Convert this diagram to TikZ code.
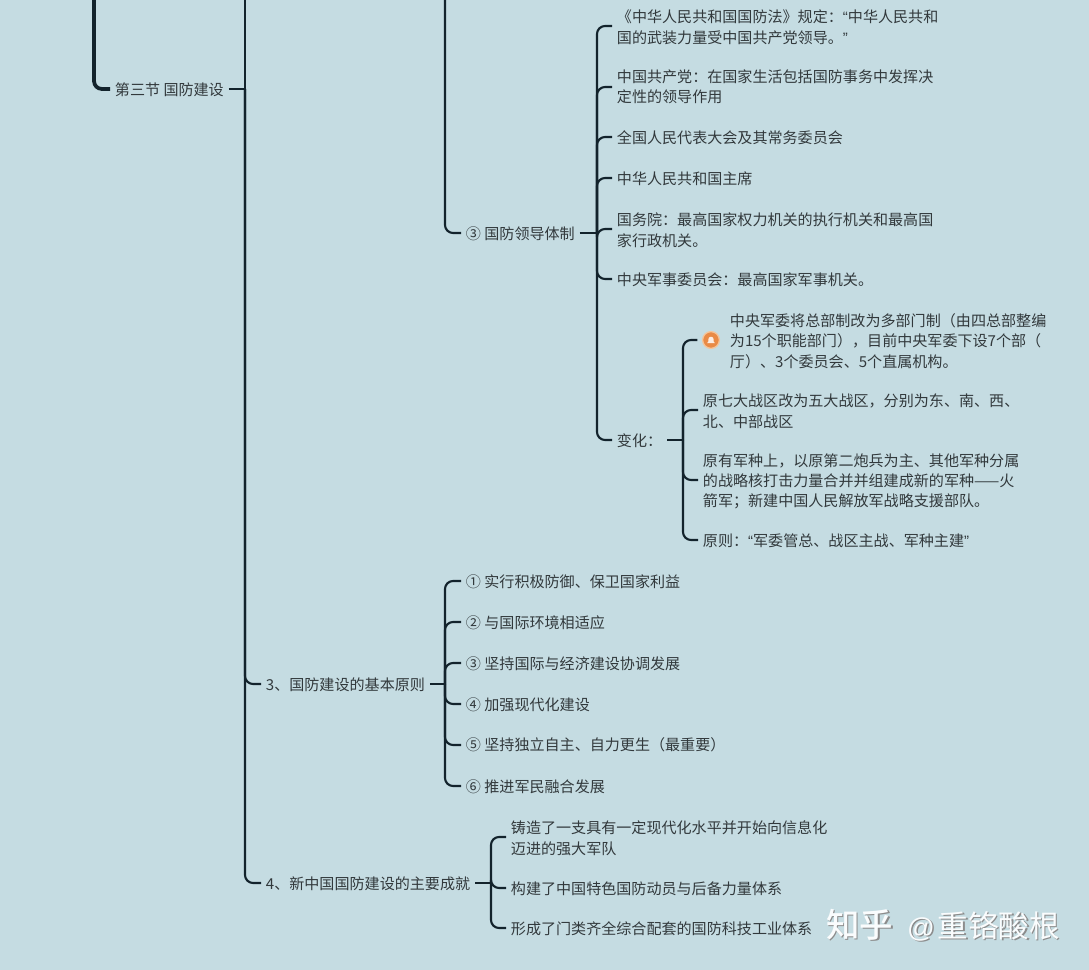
\documentclass[tikz,border=0pt]{standalone}
\usepackage{fontspec}
\setmainfont{Noto Sans CJK SC}
\newfontfamily\wmfont{Noto Sans CJK SC}[BoldFont={Noto Sans CJK SC Medium}]
\newfontfamily\quotefont{Liberation Sans}
\newcommand{\lqm}{{\quotefont “}}
\newcommand{\rqm}{{\quotefont ”}}
\newcommand{\fl}{\rule{0pt}{11.5pt}}
\definecolor{bgc}{HTML}{C5DCE2}
\definecolor{linec}{HTML}{13232C}
\definecolor{txtc}{HTML}{32393C}
\definecolor{iconc}{HTML}{E98A45}
\definecolor{iconl}{HTML}{F4C59B}
\tikzset{
  x=0.75pt,y=-0.75pt,
  item/.style={anchor=west,align=left,inner ysep=0pt,inner xsep=3.5pt,text=txtc,
    font=\fontsize{11.3}{15.1}\selectfont,
    execute at begin node={\rule{0pt}{10pt}}},
  stub/.style={draw=linec,line width=1.6pt},
  conn/.style={draw=linec,line width=1.6pt,rounded corners=6pt},
  heavy/.style={draw=linec,line width=2.8pt,rounded corners=6pt},
  wm/.style={anchor=west,inner sep=0pt},
}
\newcommand{\wmtxt}{{\wmfont\bfseries\fontsize{25.1}{28}\selectfont 知乎}\hspace{10.5pt}{\quotefont\fontsize{20.5}{28}\selectfont @}\hspace{2.2pt}{\wmfont\fontsize{22.9}{28}\selectfont 重铬酸根}}
\begin{document}
\begin{tikzpicture}
\path[fill=bgc] (0,0) rectangle (1089,970);
\useasboundingbox (0,0) rectangle (1089,970);
% free ends at the top
\coordinate (top0) at (94,0);
\coordinate (top1) at (245,0);
\coordinate (top2) at (445,0);
% section
\node[item] (sec) at (110,89) {第三节 国防建设};
\draw[heavy] (top0) |- (sec.west);
\coordinate (j1) at (245,89);
\draw[stub] (sec.east) -- (j1);
\draw[conn] (top1) -- (j1);
\node[item] (b3) at (261,684) {3、国防建设的基本原则};
\node[item] (b4) at (261,883) {4、新中国国防建设的主要成就};
\draw[conn] (j1) |- (b3.west);
\draw[conn] (j1) |- (b4.west);
% leadership
\node[item] (lead) at (461,233) {③ 国防领导体制};
\draw[conn] (top2) |- (lead.west);
\coordinate (j2) at (597,233);
\draw[stub] (lead.east) -- (j2);
\node[item] (a1) at (612,26) {\fl《中华人民共和国国防法》规定：\lqm 中华人民共和\\国的武装力量受中国共产党领导。\rqm};
\node[item] (a2) at (612,87) {中国共产党：在国家生活包括国防事务中发挥决\\定性的领导作用};
\node[item] (a3) at (612,137) {全国人民代表大会及其常务委员会};
\node[item] (a4) at (612,178) {中华人民共和国主席};
\node[item] (a5) at (612,229) {\fl 国务院：最高国家权力机关的执行机关和最高国\\家行政机关。};
\node[item] (a6) at (612,279) {中央军事委员会：最高国家军事机关。};
\node[item] (a7) at (612,440) {变化：};
\foreach \c in {a1,a2,a3,a4,a5,a6,a7} \draw[conn] (j2) |- (\c.west);
% changes
\coordinate (j3) at (683,440);
\draw[stub] (a7.east) -- (j3);
\node[circle,fill=iconc,draw=iconl,line width=1pt,minimum size=12.6pt,inner sep=0pt] (icon) at (711,340) {};
\fill[white!85!iconc] (711,340) ++(-4,3.2) -- ++(8,0) -- ++(-1.3,-1.6) -- ++(0,-2.2) arc[start angle=0,end angle=-180,radius=2.7] -- ++(0,2.2) -- cycle;
\node[item] (c1) at (725,340) {\fl 中央军委将总部制改为多部门制（由四总部整编\\为15个职能部门），目前中央军委下设7个部（\\厅）、3个委员会、5个直属机构。};
\node[item] (c2) at (698,410) {\fl 原七大战区改为五大战区，分别为东、南、西、\\北、中部战区};
\node[item] (c3) at (698,480) {\fl 原有军种上，以原第二炮兵为主、其他军种分属\\的战略核打击力量合并并组建成新的军种——火\\箭军；新建中国人民解放军战略支援部队。};
\node[item] (c4) at (698,540) {原则：\lqm 军委管总、战区主战、军种主建\rqm};
\draw[conn] (j3) |- ([xshift=-3.4pt]icon.west);
\foreach \c in {c2,c3,c4} \draw[conn] (j3) |- (\c.west);
% principles
\coordinate (j4) at (445,684);
\draw[stub] (b3.east) -- (j4);
\node[item] (p1) at (461,581) {① 实行积极防御、保卫国家利益};
\node[item] (p2) at (461,622) {② 与国际环境相适应};
\node[item] (p3) at (461,663) {③ 坚持国际与经济建设协调发展};
\node[item] (p4) at (461,704) {④ 加强现代化建设};
\node[item] (p5) at (461,745) {⑤ 坚持独立自主、自力更生（最重要）};
\node[item] (p6) at (461,786) {⑥ 推进军民融合发展};
\foreach \c in {p1,p2,p3,p4,p5,p6} \draw[conn] (j4) |- (\c.west);
% achievements
\coordinate (j5) at (491,883);
\draw[stub] (b4.east) -- (j5);
\node[item] (q1) at (506,837) {\fl 铸造了一支具有一定现代化水平并开始向信息化\\迈进的强大军队};
\node[item] (q2) at (506,888) {构建了中国特色国防动员与后备力量体系};
\node[item] (q3) at (506,928) {形成了门类齐全综合配套的国防科技工业体系};
\foreach \c in {q1,q2,q3} \draw[conn] (j5) |- (\c.west);
% watermark
\node[wm,text=black!45] (wmshadow) at (827.5,926.5) {\wmtxt};
\node[wm,text=white!92!bgc] (wmtext) at (826,925) {\wmtxt};
\end{tikzpicture}
\end{document}
